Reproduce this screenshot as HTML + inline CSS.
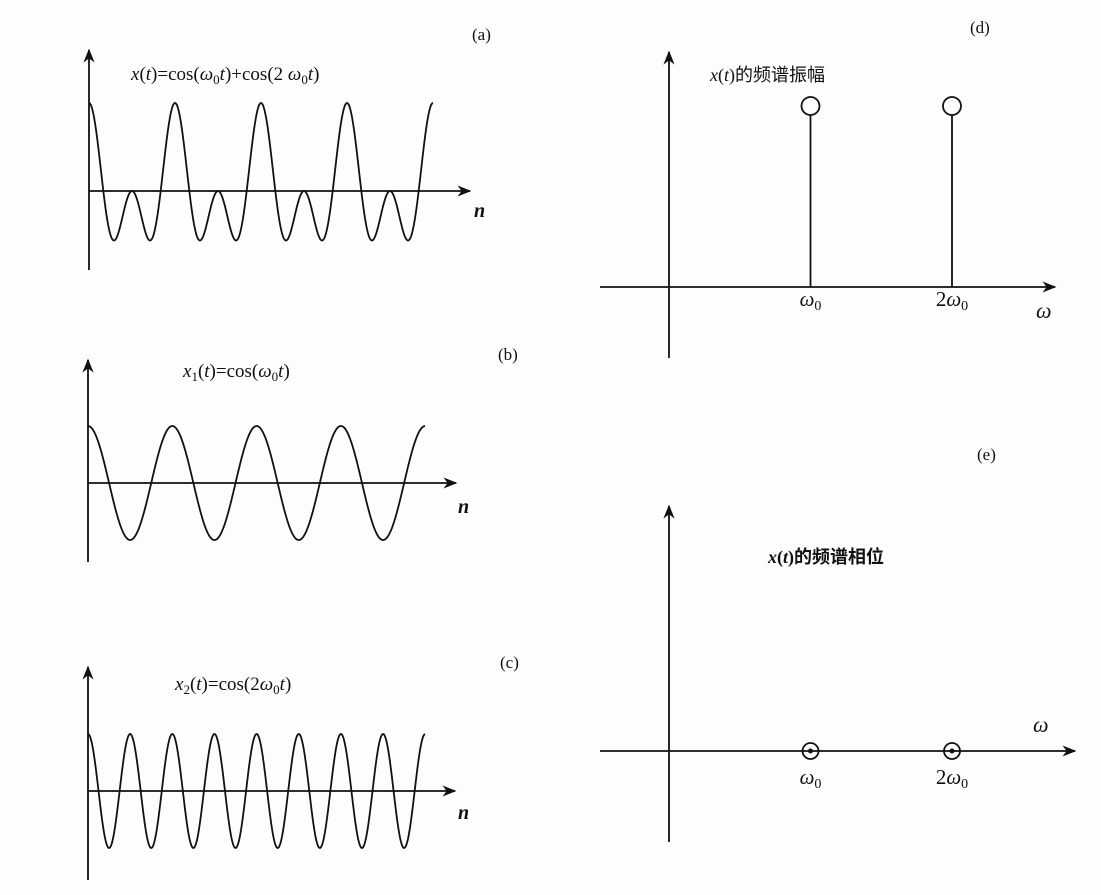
<!DOCTYPE html>
<html><head><meta charset="utf-8"><style>
html,body{margin:0;padding:0;background:#fdfdfd;}
svg{display:block;}
text{font-family:"Liberation Serif","Noto Serif CJK SC",serif;fill:#111;}
.cjk{font-family:"Liberation Serif","Noto Sans CJK SC",sans-serif;}
</style></head><body>
<svg id="fig" width="1101" height="895" viewBox="0 0 1101 895" xmlns="http://www.w3.org/2000/svg">
<defs><marker id="ar" viewBox="0 0 10 10" refX="9" refY="5" markerWidth="14" markerHeight="14" markerUnits="userSpaceOnUse" orient="auto"><path d="M0,1 L10,5 L0,9 L3,5 Z" fill="#111"/></marker></defs>
<g id="layer"></g>
<text x="472" y="40" font-size="17">(a)</text>
<text x="498" y="360" font-size="17">(b)</text>
<text x="500" y="668" font-size="17">(c)</text>
<text x="970" y="33" font-size="17">(d)</text>
<text x="977" y="460" font-size="17">(e)</text>
<text x="131" y="80" font-size="19"><tspan font-style="italic">x</tspan>(<tspan font-style="italic">t</tspan>)=cos(<tspan font-style="italic">ω</tspan><tspan font-size="13" dy="4">0</tspan><tspan dy="-4" font-style="italic">t</tspan>)+cos(2 <tspan font-style="italic">ω</tspan><tspan font-size="13" dy="4">0</tspan><tspan dy="-4" font-style="italic">t</tspan>)</text>
<text x="183" y="377" font-size="19"><tspan font-style="italic">x</tspan><tspan font-size="13" dy="4">1</tspan><tspan dy="-4">(</tspan><tspan font-style="italic">t</tspan>)=cos(<tspan font-style="italic">ω</tspan><tspan font-size="13" dy="4">0</tspan><tspan dy="-4" font-style="italic">t</tspan>)</text>
<text x="175" y="690" font-size="19"><tspan font-style="italic">x</tspan><tspan font-size="13" dy="4">2</tspan><tspan dy="-4">(</tspan><tspan font-style="italic">t</tspan>)=cos(2<tspan font-style="italic">ω</tspan><tspan font-size="13" dy="4">0</tspan><tspan dy="-4" font-style="italic">t</tspan>)</text>
<text x="710" y="81" font-size="18" class="cjk"><tspan font-style="italic" font-family="Liberation Serif">x</tspan>(<tspan font-style="italic">t</tspan>)的频谱振幅</text>
<text x="768" y="563" font-size="18" font-weight="bold" class="cjk"><tspan font-style="italic" font-family="Liberation Serif">x</tspan>(<tspan font-style="italic">t</tspan>)的频谱相位</text>
<text x="474" y="217" font-size="20" font-style="italic" font-weight="bold">n</text>
<text x="458" y="513" font-size="20" font-style="italic" font-weight="bold">n</text>
<text x="458" y="819" font-size="20" font-style="italic" font-weight="bold">n</text>
<text x="1036" y="318" font-size="22" font-style="italic">ω</text>
<text x="1033" y="732" font-size="22" font-style="italic">ω</text>
</svg>
<script>
const ns="http://www.w3.org/2000/svg";
const layer=document.getElementById('layer');
// time-domain component amplitudes per harmonic [h1, h2]
const compA=[1,1];
const compB=[1,0];
const compC=[0,1];
// spectrum
const harmonics=[1,2];
const harmonicPrefix=["","2"];
const magnitudes=[1,1];
const phases=[0,0];

function mk(tag,attrs,parent){const e=document.createElementNS(ns,tag);for(const k in attrs)e.setAttribute(k,attrs[k]);(parent||layer).appendChild(e);return e;}
function axis(x1,y1,x2,y2,name){const l=mk('line',{x1,y1,x2,y2,stroke:'#111','stroke-width':1.8,'marker-end':'url(#ar)'});

}

function wave(amps,x0,x1,y0,unit,period,name){
  let d='';
  for(let px=x0;px<=x1;px+=0.5){const th=(px-x0)/period*2*Math.PI;let v=0;amps.forEach((a,i)=>v+=a*Math.cos((i+1)*th));
    d+=(d?'L':'M')+px.toFixed(1)+','+(y0-v*unit).toFixed(1);}
  const p=mk('path',{d,fill:'none',stroke:'#111','stroke-width':1.8});
  
  
}
function tickLabel(x,y,prefix,name){
  const t=mk('text',{x:x,y:y,'font-size':21,'text-anchor':'middle'});
  
  
  if(prefix){const a=mk('tspan',{},t);a.textContent=prefix;}
  const w=mk('tspan',{'font-style':'italic'},t);w.textContent='ω';
  const s=mk('tspan',{'font-size':14,dy:4},t);s.textContent='0';
}
axis(89,270,89,50,'y-axis-a');axis(89,191,470,191,'x-axis-a');
wave(compA,89,433,191,44,86,'curve-a');
axis(88,562,88,360,'y-axis-b');axis(88,483,456,483,'x-axis-b');
wave(compB,88,425,483,57,84.3,'curve-b');
axis(88,880,88,667,'y-axis-c');axis(88,791,455,791,'x-axis-c');
wave(compC,88,425,791,57,84.3,'curve-c');

const sx=w=>669+w*141.5;
const magY=m=>287-m*181;
axis(669,358,669,52,'y-axis-d');axis(600,287,1055,287,'x-axis-d');
harmonics.forEach((h,i)=>{
  const x=sx(h),y=magY(magnitudes[i]);
  const s=mk('line',{x1:x,y1:287,x2:x,y2:y+9,stroke:'#111','stroke-width':1.8});
  
  
  const c=mk('circle',{cx:x,cy:y,r:9,fill:'none',stroke:'#111','stroke-width':1.8});
  
  
  tickLabel(x,306,harmonicPrefix[i],'tick-label-d-'+h);
});
const phY=p=>751-p*60;
axis(669,842,669,506,'y-axis-e');axis(600,751,1075,751,'x-axis-e');
harmonics.forEach((h,i)=>{
  const x=sx(h),y=phY(phases[i]);
  const c=mk('circle',{cx:x,cy:y,r:8,fill:'none',stroke:'#111','stroke-width':1.8});
  
  
  const d=mk('circle',{cx:x,cy:y,r:2.5,fill:'#111'});
  
  
  tickLabel(x,784,harmonicPrefix[i],'tick-label-e-'+h);
});
</script>
</body></html>
